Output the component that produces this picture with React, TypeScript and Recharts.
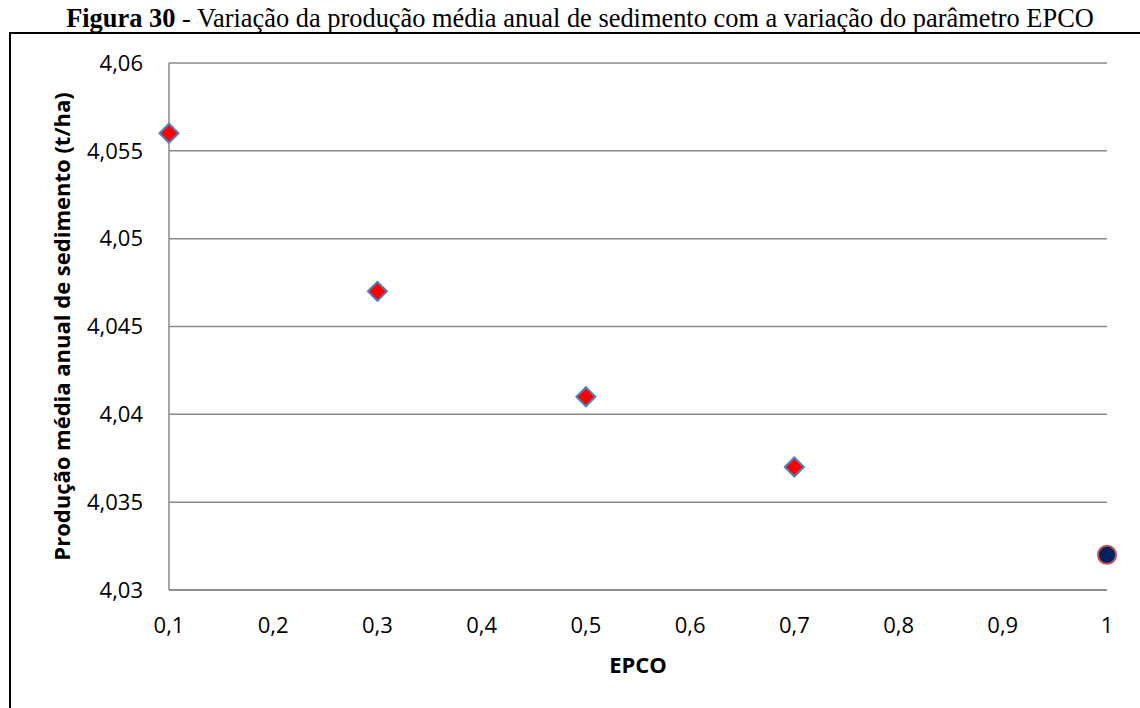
import { ScatterChart, Scatter, XAxis, YAxis, CartesianGrid, Label } from "recharts";

const epco = [0.1, 0.3, 0.5, 0.7, 1];
const sediment = [4.056, 4.047, 4.041, 4.037, 4.032];
const xTicks = [0.1, 0.2, 0.3, 0.4, 0.5, 0.6, 0.7, 0.8, 0.9, 1];
const yTicks = [4.03, 4.035, 4.04, 4.045, 4.05, 4.055, 4.06];

const data = epco.map((e, i) => ({ epco: e, sed: sediment[i] }));

const comma = (v: number) => String(v).replace(".", ",");
const axisFont = "'Open Sans', 'Noto Sans', sans-serif";
const gridColor = "#8a8a8a";

// last point is drawn differently in the original sheet (circle instead of diamond)
const Marker = (props: any) => {
  const { cx, cy, payload } = props;
  if (payload.epco === 1) {
    return <circle cx={cx} cy={cy} r={9} fill="#002060" stroke="#c0504d" strokeWidth={2} />;
  }
  const s = 9.5;
  return (
    <polygon
      points={`${cx},${cy - s} ${cx + s},${cy} ${cx},${cy + s} ${cx - s},${cy}`}
      fill="#ff0000"
      stroke="#4f81bd"
      strokeWidth={2}
    />
  );
};

export default function App() {
  return (
    <div style={{ position: "absolute", left: 0, top: 0, width: 1140, height: 708, background: "#fff" }}>
      <ScatterChart width={1140} height={708} margin={{ top: 63, right: 33, bottom: 38, left: 29 }}>
        <CartesianGrid vertical={false} stroke={gridColor} strokeWidth={1.5} />
        <XAxis
          type="number"
          dataKey="epco"
          domain={[0.1, 1]}
          ticks={xTicks}
          tickFormatter={comma}
          height={80}
          axisLine={{ stroke: gridColor, strokeWidth: 1.5 }}
          tickLine={false}
          tickSize={0}
          tickMargin={27}
          tick={{ fontSize: 22, fill: "#000", fontFamily: axisFont }}
        >
          <Label
            value="EPCO"
            position="insideBottom"
            offset={-3}
            style={{ fontSize: 22, fontWeight: "bold", fill: "#000", fontFamily: axisFont }}
          />
        </XAxis>
        <YAxis
          type="number"
          dataKey="sed"
          domain={[4.03, 4.06]}
          ticks={yTicks}
          tickFormatter={comma}
          width={140}
          axisLine={{ stroke: gridColor, strokeWidth: 1.5 }}
          tickLine={false}
          tickSize={0}
          tickMargin={26}
          tick={{ fontSize: 22, fill: "#000", fontFamily: axisFont }}
        >
          <Label
            value="Produção média anual de sedimento (t/ha)"
            angle={-90}
            position="insideLeft"
            offset={33}
            style={{ textAnchor: "middle", fontSize: 22, fontWeight: "bold", fill: "#000", fontFamily: axisFont }}
          />
        </YAxis>
        <Scatter data={data} shape={<Marker />} isAnimationActive={false} />
      </ScatterChart>
      <div
        style={{
          position: "absolute",
          left: 9,
          top: 32,
          right: 0,
          bottom: 0,
          borderTop: "2px solid #000",
          borderLeft: "2px solid #000",
          pointerEvents: "none",
        }}
      />
      <div
        style={{
          position: "absolute",
          left: 0,
          top: 3,
          width: 1140,
          textAlign: "center",
          fontFamily: "'Liberation Serif', 'Times New Roman', serif",
          fontSize: 26.4,
          lineHeight: "30px",
          color: "#000",
          paddingLeft: 20,
          boxSizing: "border-box",
        }}
      >
        <b>Figura 30</b> - Variação da produção média anual de sedimento com a variação do parâmetro EPCO
      </div>
    </div>
  );
}
